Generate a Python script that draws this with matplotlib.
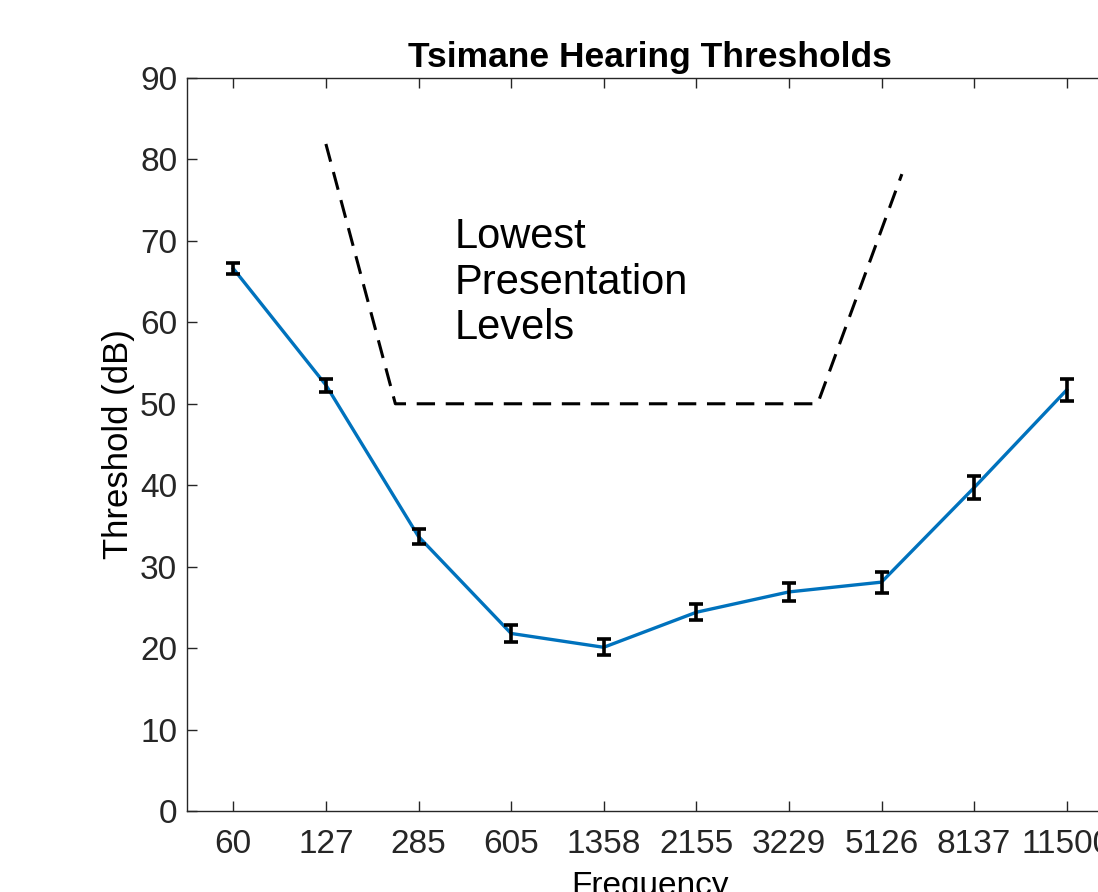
import numpy as np
import matplotlib.pyplot as plt

plt.rcParams['font.family'] = ['Liberation Sans', 'DejaVu Sans']

freqs = ['60', '127', '285', '605', '1358', '2155', '3229', '5126', '8137', '11500']
thresholds = [66.6, 52.3, 33.7, 21.8, 20.1, 24.4, 26.9, 28.1, 39.7, 51.7]
errors = [0.7, 0.8, 0.9, 1.0, 1.0, 1.0, 1.1, 1.3, 1.4, 1.4]

# lowest presentation level boundary (x in category units, y in dB)
lpl_x = [2.0, 2.75, 7.31, 8.22]
lpl_y = [81.9, 50.0, 50.0, 78.2]

fig = plt.figure(figsize=(10.98, 8.92), dpi=100)
W, H = 1098, 892
# axes box in pixels: left 187, right 1113 (runs past the edge), top 78, bottom 811
ax = fig.add_axes([187 / W, 1 - 811 / H, (1113 - 187) / W, (811 - 78) / H])

x = np.arange(1, len(freqs) + 1)
ax.plot(x, thresholds, color='#0072BD', lw=2.4, zorder=2)
ax.errorbar(x, thresholds, yerr=errors, fmt='none', ecolor='black',
            elinewidth=2.6, capsize=5, capthick=2.6, zorder=3)

ax.plot(lpl_x, lpl_y, color='black', lw=2.2, ls=(0, (6, 3.5)))
ax.text(3.39, 72.9, 'Lowest\nPresentation\nLevels', fontsize=30,
        ha='left', va='top', linespacing=1.18)

ax.set_xlim(0.5, 10.5)
ax.set_ylim(0, 90)
ax.set_xticks(x)
ax.set_xticklabels(freqs)
ax.set_yticks(np.arange(0, 91, 10))
ax.tick_params(direction='in', length=7, width=1, colors='#262626',
               labelsize=24, top=True, right=True)
ax.tick_params(axis='x', pad=13)
ax.tick_params(axis='y', pad=7)
for s in ax.spines.values():
    s.set_color('#262626')
    s.set_linewidth(1)

ax.set_title('Tsimane Hearing Thresholds', fontsize=25.5, fontweight='bold', pad=8)
ax.set_xlabel('Frequency', fontsize=24, labelpad=8)
ax.set_ylabel('Threshold (dB)', fontsize=25, labelpad=4)

fig.savefig('out.png', dpi=100)
